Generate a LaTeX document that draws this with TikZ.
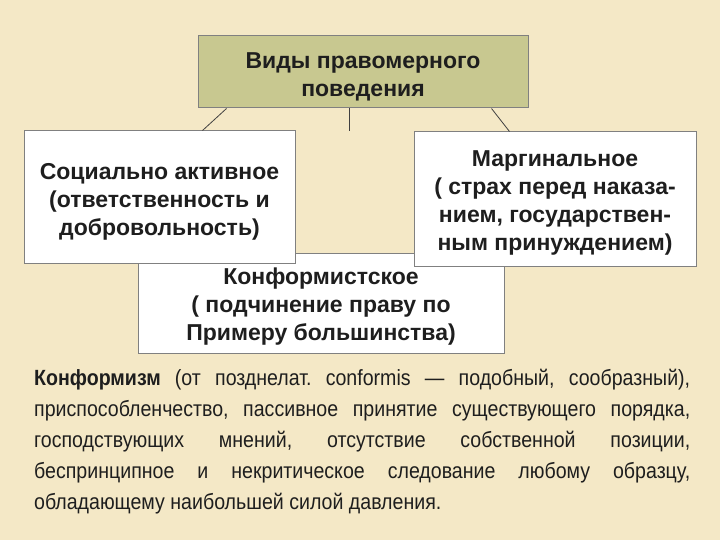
\documentclass[tikz,border=0pt]{standalone}
\usepackage{fontspec}
\setmainfont{Liberation Sans}
\newfontfamily\narrowfont[FakeStretch=0.89]{Liberation Sans}
\usetikzlibrary{calc}
\definecolor{parch}{RGB}{244,232,198}
\definecolor{olive}{RGB}{200,200,144}
\definecolor{edge}{RGB}{128,128,128}
\definecolor{ink}{RGB}{30,30,30}
\newcommand\mystrut[1]{\rule{0pt}{#1}}
\tikzset{
  box/.style={draw=edge, line width=1pt, fill=white, inner sep=0pt, align=center,
    text=ink, font=\bfseries\fontsize{23}{28}\selectfont},
  link/.style={draw=black!75, line width=0.8pt}
}
\begin{document}
\begin{tikzpicture}[x=1pt,y=-1pt]
\fill[parch] (0,0) rectangle (720,540);
\useasboundingbox (0,0) rectangle (720,540);
% top
\node[box, fill=olive, minimum width=330pt, minimum height=72pt] (top) at (363,72)
  {\mystrut{26.5pt}Виды правомерного\\поведения};
% conformist (behind)
\node[box, minimum width=366pt, minimum height=100pt] (conf) at (321,303)
  {\mystrut{23pt}Конформистское\\( подчинение праву по\\Примеру большинства)};
% left
\node[box, minimum width=271pt, minimum height=132pt] (left) at (159.5,197)
  {\mystrut{25pt}Социально активное\\(ответственность и\\добровольность)};
% right
\node[box, minimum width=282pt, minimum height=134pt] (right) at (555,199)
  {\mystrut{23pt}Маргинальное\\( страх перед наказа-\\нием, государствен-\\ным принуждением)};
% connectors
\coordinate (midend) at ($(top.south)+(-14,23)$);
\draw[link] ($(top.south west)+(29,0)$) -- ($(left.north west)+(179,0)$);
\draw[link] ($(top.south)+(-14,0)$) -- (midend);
\draw[link] ($(top.south west)+(294,0)$) -- ($(right.north west)+(96,0)$);
% paragraph
\node[anchor=north west, inner sep=0pt, text width=656pt, align=justify, text=ink,
  font=\narrowfont\fontsize{22}{31}\selectfont] (para) at (34,369)
  {\frenchspacing\hyphenpenalty=10000\textbf{Конформизм} (от позднелат. conformis — подобный, сообразный),\linebreak
   приспособленчество, пассивное принятие существующего порядка,\linebreak
   господствующих мнений, отсутствие собственной позиции,\linebreak
   беспринципное и некритическое следование любому образцу,\linebreak
   обладающему наибольшей силой давления.};
\end{tikzpicture}
\end{document}
